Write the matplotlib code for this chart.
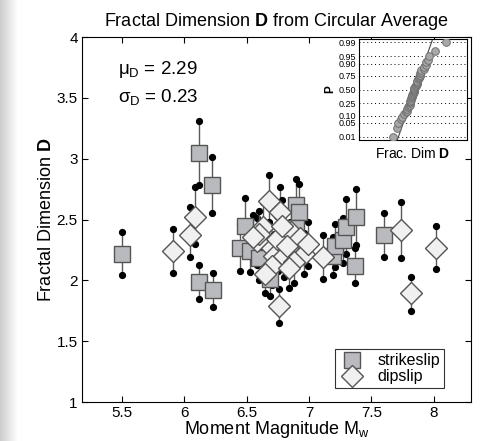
import numpy as np
import matplotlib
matplotlib.use("Agg")
import matplotlib.pyplot as plt

plt.rcParams["font.family"] = "Liberation Sans"
plt.rcParams["mathtext.fontset"] = "custom"
plt.rcParams["mathtext.rm"] = "Liberation Sans"
plt.rcParams["mathtext.it"] = "Liberation Sans"
plt.rcParams["mathtext.bf"] = "Liberation Sans:bold"

# ---------------------------------------------------------------------------
# Data: magnitude, fractal dimension, error-bar ends
# ---------------------------------------------------------------------------
ss_mw = [5.50, 6.12, 6.22, 6.12, 6.23, 6.49, 6.45, 6.53, 6.60, 6.69, 6.90, 6.92,
         6.90, 6.85, 7.19, 7.21, 7.27, 7.30, 7.38, 7.37, 7.60, 6.75]
ss_d = [2.22, 3.05, 2.78, 1.99, 1.92, 2.45, 2.27, 2.24, 2.18, 2.01, 2.62, 2.56,
        2.43, 2.30, 2.20, 2.28, 2.33, 2.44, 2.52, 2.12, 2.37, 2.25]
ss_lo = [2.04, 2.78, 2.55, 1.85, 1.78, 2.22, 2.08, 2.07, 2.00, 1.87, 2.41, 2.33,
         2.22, 2.12, 2.04, 2.11, 2.14, 2.22, 2.29, 1.98, 2.19, 2.08]
ss_hi = [2.40, 3.31, 3.01, 2.13, 2.06, 2.68, 2.46, 2.41, 2.36, 2.15, 2.83, 2.79,
         2.64, 2.48, 2.36, 2.46, 2.51, 2.67, 2.75, 2.27, 2.55, 2.42]

ds_mw = [5.91, 6.09, 6.05, 6.68, 6.77, 6.63, 6.68, 6.72, 6.80, 6.74, 6.86, 6.93,
         6.96, 7.11, 6.76, 7.74, 7.82, 8.02, 6.58, 6.70, 6.82, 6.88, 6.65, 6.60,
         6.78, 6.99, 6.55, 6.84]
ds_d = [2.24, 2.52, 2.37, 2.65, 2.56, 2.44, 2.29, 2.20, 2.20, 2.34, 2.40, 2.35,
        2.22, 2.19, 1.79, 2.41, 1.90, 2.27, 2.32, 2.12, 2.28, 2.15, 2.05, 2.38,
        2.45, 2.30, 2.36, 2.10]
ds_lo = [2.06, 2.30, 2.19, 2.43, 2.35, 2.24, 2.10, 2.02, 2.03, 2.15, 2.20, 2.16,
         2.05, 2.01, 1.65, 2.18, 1.75, 2.09, 2.13, 1.96, 2.10, 1.98, 1.90, 2.19,
         2.24, 2.12, 2.18, 1.94]
ds_hi = [2.42, 2.77, 2.60, 2.87, 2.77, 2.64, 2.48, 2.38, 2.37, 2.53, 2.60, 2.54,
         2.39, 2.37, 1.93, 2.64, 2.03, 2.45, 2.51, 2.28, 2.46, 2.32, 2.20, 2.57,
         2.66, 2.48, 2.54, 2.26]

prob_ticks = [0.01, 0.05, 0.10, 0.25, 0.50, 0.75, 0.90, 0.95, 0.99]
prob_labels = ["0.01", "0.05", "0.10", "0.25", "0.50", "0.75", "0.90", "0.95", "0.99"]

C_SQ, C_DI, C_EDGE, C_BAR = "#b9babe", "#f0f0f0", "#555555", "#5a5a5a"


def norm_ppf(p):
    # Acklam's rational approximation of the inverse normal CDF
    p = np.asarray(p, dtype=float)
    a = [-3.969683028665376e+01, 2.209460984245205e+02, -2.759285104469687e+02,
         1.383577518672690e+02, -3.066479806614716e+01, 2.506628277459239e+00]
    b = [-5.447609879822406e+01, 1.615858368580409e+02, -1.556989798598866e+02,
         6.680131188771972e+01, -1.328068155288572e+01]
    c = [-7.784894002430293e-03, -3.223964580411365e-01, -2.400758277161838e+00,
         -2.549671368607025e+00, 4.374664141464968e+00, 2.938163982698783e+00]
    d = [7.784695709041462e-03, 3.224671290700398e-01, 2.445134137142996e+00,
         3.754408661907416e+00]
    out = np.empty_like(p)
    lo = p < 0.02425
    hi = p > 1 - 0.02425
    mid = ~(lo | hi)
    q = np.sqrt(-2 * np.log(p[lo]))
    out[lo] = (((((c[0]*q+c[1])*q+c[2])*q+c[3])*q+c[4])*q+c[5]) / \
              ((((d[0]*q+d[1])*q+d[2])*q+d[3])*q+1)
    q = np.sqrt(-2 * np.log(1 - p[hi]))
    out[hi] = -(((((c[0]*q+c[1])*q+c[2])*q+c[3])*q+c[4])*q+c[5]) / \
               ((((d[0]*q+d[1])*q+d[2])*q+d[3])*q+1)
    q = p[mid] - 0.5
    r = q * q
    out[mid] = (((((a[0]*r+a[1])*r+a[2])*r+a[3])*r+a[4])*r+a[5])*q / \
               (((((b[0]*r+b[1])*r+b[2])*r+b[3])*r+b[4])*r+1)
    return out


fig = plt.figure(figsize=(4.96, 4.41), dpi=100)

# grey page edge on the left, as in the scanned figure
edge = fig.add_axes([0, 0, 0.035, 1])
edge.imshow(np.linspace(0.80, 1.0, 64)[None, :], cmap="gray", vmin=0, vmax=1,
            aspect="auto", extent=[0, 1, 0, 1])
edge.axis("off")

ax = fig.add_axes([0.165, 0.0884, 0.785, 0.8276])


def draw(mw, d, lo, hi, marker, ms, fc, label):
    for i, (x, y, l, h) in enumerate(zip(mw, d, lo, hi)):
        ax.plot([x, x], [l, h], color=C_BAR, lw=1.0, zorder=2)
        ax.plot([x, x], [l, h], "o", color="black", ms=4.2, zorder=2)
        ax.plot(x, y, marker, ms=ms, mfc=fc, mec=C_EDGE, mew=1.0, zorder=3,
                label=label if i == 0 else None)


draw(ss_mw, ss_d, ss_lo, ss_hi, "s", 11.5, C_SQ, "strikeslip")
draw(ds_mw, ds_d, ds_lo, ds_hi, "D", 10.8, C_DI, "dipslip")

ax.set_xlim(5.18, 8.3)
ax.set_ylim(1, 4)
ax.set_xticks([5.5, 6, 6.5, 7, 7.5, 8])
ax.set_xticklabels(["5.5", "6", "6.5", "7", "7.5", "8"])
ax.set_yticks([1, 1.5, 2, 2.5, 3, 3.5, 4])
ax.set_yticklabels(["1", "1.5", "2", "2.5", "3", "3.5", "4"])
ax.tick_params(direction="in", top=True, right=True, length=4, labelsize=11,
               width=0.8, pad=3)
for s in ax.spines.values():
    s.set_linewidth(0.8)
ax.set_xlabel(r"Moment Magnitude M$_w$", fontsize=13, labelpad=-1)
ax.set_ylabel(r"Fractal Dimension $\mathbf{D}$", fontsize=13, labelpad=1)
ax.set_title(r"Fractal Dimension $\mathbf{D}$ from Circular Average", fontsize=13, pad=8)

ax.text(5.47, 3.73, r"$\mu_\mathrm{D}$ = 2.29", fontsize=13.5, va="center")
ax.text(5.47, 3.51, r"$\sigma_\mathrm{D}$ = 0.23", fontsize=13.5, va="center")

leg = ax.legend(loc="lower right", bbox_to_anchor=(0.93, 0.038), fontsize=11.5,
                frameon=True, fancybox=False, borderpad=0.25, labelspacing=0.05,
                handletextpad=0.8, handlelength=1.6, borderaxespad=0)
leg.get_frame().set_edgecolor("black")
leg.get_frame().set_linewidth(0.8)

# ---- inset: normal probability plot of all D values ----
allD = np.sort(np.array(ss_d + ds_d))
n = len(allD)
pp = (np.arange(1, n + 1) - 0.5) / n
zz = norm_ppf(pp)
q25, q75 = np.percentile(allD, [25, 75])
z25, z75 = norm_ppf(np.array([0.25, 0.75]))
slope = (z75 - z25) / (q75 - q25)

ins = fig.add_axes([0.724, 0.6825, 0.218, 0.229])
ins.set_xlim(1.0, 3.54)
ins.set_ylim(-2.49, 2.49)
for t in norm_ppf(np.array(prob_ticks)):
    ins.axhline(t, color="black", ls=(0, (1, 3)), lw=0.7, zorder=1)
xl = np.array([1.0, 3.54])
ins.plot(xl, z25 + slope * (xl - q25), color="#444444", lw=0.8, zorder=2)
ins.plot(allD, zz, "o", ms=5.5, mfc="#a8a8a8", mec="#707070", mew=0.7, zorder=3)
ins.set_yticks(norm_ppf(np.array(prob_ticks)))
ins.set_yticklabels(prob_labels)
ins.set_xticks([])
ins.tick_params(axis="y", labelsize=6.5, length=0, pad=2)
ins.set_ylabel("P", fontsize=8.5, fontweight="bold", labelpad=2)
ins.set_xlabel(r"Frac. Dim $\mathbf{D}$", fontsize=10, labelpad=4)
for s in ins.spines.values():
    s.set_linewidth(0.8)
ins.set_facecolor("white")

fig.savefig("out.png", dpi=100)
